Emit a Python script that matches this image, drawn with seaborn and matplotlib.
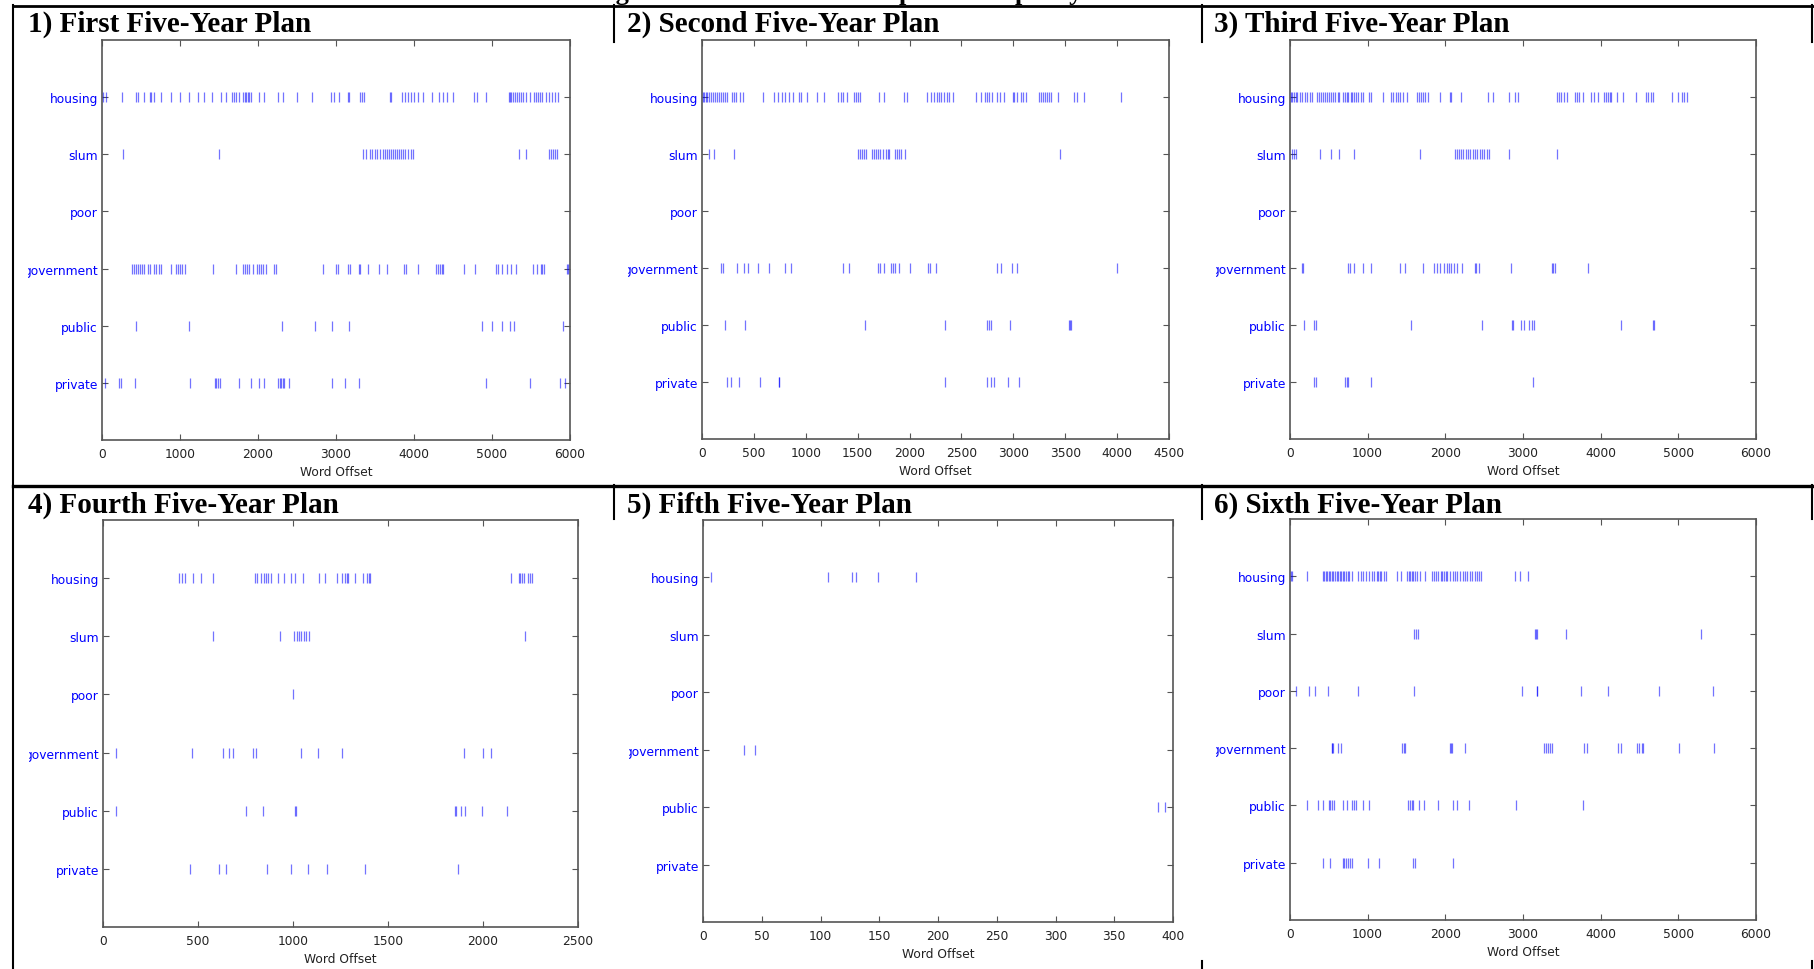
import pandas as pd
import seaborn as sns
import matplotlib.pyplot as plt
from matplotlib.lines import Line2D
from matplotlib.ticker import MultipleLocator
from matplotlib.transforms import Bbox, TransformedBbox

# words shown on every panel, top to bottom
words = ["housing", "slum", "poor", "government", "public", "private"]

titles = ["1) First Five-Year Plan", "2) Second Five-Year Plan", "3) Third Five-Year Plan",
          "4) Fourth Five-Year Plan", "5) Fifth Five-Year Plan", "6) Sixth Five-Year Plan"]

# word offsets
plan1 = {
    "housing": [10, 51, 254, 442, 467, 534, 610, 630, 671, 752, 879, 1001, 1118, 1235, 1311, 1408,
                1524, 1585, 1662, 1687, 1712, 1753, 1814, 1829, 1850, 1870, 1890, 1911, 2012, 2073,
                2256, 2322, 2500, 2693, 2937, 2973, 3034, 3150, 3171, 3303, 3328, 3354, 3694, 3704,
                3852, 3887, 3928, 3963, 4004, 4045, 4116, 4233, 4319, 4370, 4421, 4497, 4766, 4802,
                4929, 5218, 5234, 5249, 5269, 5295, 5320, 5346, 5376, 5401, 5437, 5488, 5539, 5564,
                5589, 5615, 5640, 5691, 5727, 5767, 5803, 5843],
    "slum": [269, 1499, 3344, 3389, 3430, 3466, 3496, 3532, 3567, 3598, 3633, 3659, 3684, 3709,
             3735, 3760, 3786, 3811, 3836, 3862, 3887, 3928, 3963, 3988, 5346, 5437, 5727, 5752,
             5778, 5803, 5833],
    "poor": [],
    "government": [381, 407, 432, 457, 483, 518, 544, 584, 610, 661, 686, 737, 762, 879, 950, 976,
                   1006, 1032, 1067, 1423, 1712, 1804, 1829, 1855, 1890, 1931, 1992, 2007, 2033,
                   2058, 2099, 2210, 2226, 2835, 2998, 3024, 3150, 3176, 3293, 3313, 3404, 3547,
                   3659, 3877, 3902, 4055, 4283, 4304, 4329, 4355, 4370, 4639, 4787, 5046, 5081,
                   5122, 5193, 5249, 5310, 5528, 5579, 5625, 5640, 5666, 5960, 5976],
    "public": [442, 1118, 2302, 2729, 2952, 3161, 4873, 5005, 5122, 5234, 5285, 5915],
    "private": [41, 213, 239, 422, 1128, 1448, 1463, 1489, 1509, 1753, 1906, 2017, 2073, 2261,
                2276, 2297, 2317, 2327, 2403, 2952, 3115, 3293, 4924, 5488, 5869, 5930],
}

plan2 = {
    "housing": [8, 19, 34, 49, 72, 90, 109, 128, 147, 166, 184, 207, 226, 245, 290, 309, 328, 365,
                392, 584, 697, 730, 768, 798, 836, 881, 937, 956, 1013, 1111, 1175, 1314, 1337,
                1363, 1401, 1465, 1483, 1502, 1525, 1710, 1751, 1947, 1977, 2165, 2210, 2240, 2267,
                2285, 2304, 2330, 2361, 2380, 2417, 2643, 2692, 2730, 2745, 2764, 2794, 2843, 2869,
                2907, 2994, 3009, 3031, 3076, 3095, 3122, 3246, 3265, 3283, 3302, 3321, 3340, 3366,
                3434, 3584, 3611, 3679, 4036],
    "slum": [72, 113, 309, 1502, 1521, 1540, 1559, 1578, 1638, 1657, 1675, 1694, 1720, 1747, 1770,
             1788, 1803, 1860, 1879, 1901, 1920, 1954, 3445],
    "poor": [],
    "government": [184, 200, 335, 403, 448, 542, 644, 798, 855, 1363, 1419, 1694, 1713, 1751, 1826,
                   1841, 1864, 1901, 2003, 2180, 2199, 2255, 2839, 2877, 2989, 3038, 3999],
    "public": [218, 410, 1570, 2342, 2748, 2764, 2782, 2971, 3535, 3547, 3558],
    "private": [241, 279, 354, 557, 738, 745, 2342, 2748, 2786, 2813, 2952, 3057],
}

plan3 = {
    "housing": [10, 30, 51, 71, 96, 126, 157, 187, 223, 258, 288, 349, 374, 399, 425, 450, 475, 500,
                526, 551, 576, 612, 637, 677, 703, 728, 753, 779, 804, 829, 854, 880, 915, 945, 1021,
                1041, 1198, 1294, 1320, 1360, 1390, 1421, 1451, 1512, 1638, 1664, 1689, 1714, 1739,
                1775, 1937, 2058, 2078, 2199, 2548, 2613, 2826, 2902, 2937, 3433, 3458, 3493, 3524,
                3569, 3670, 3696, 3721, 3776, 3877, 3913, 3963, 4039, 4065, 4090, 4120, 4130, 4206,
                4282, 4454, 4580, 4606, 4646, 4671, 4924, 5000, 5041, 5076, 5111],
    "slum": [20, 46, 71, 384, 526, 627, 829, 1668, 2128, 2154, 2179, 2204, 2229, 2260, 2290, 2320,
             2351, 2381, 2411, 2442, 2472, 2502, 2533, 2568, 2826, 3433],
    "poor": [],
    "government": [157, 172, 753, 768, 829, 945, 1047, 1421, 1476, 1714, 1855, 1896, 1936, 1987,
                   2017, 2047, 2078, 2108, 2149, 2214, 2386, 2401, 2432, 2851, 3367, 3382, 3413,
                   3837],
    "public": [177, 303, 339, 1552, 2477, 2861, 2877, 2968, 3013, 3079, 3114, 3145, 4267, 4676, 4686],
    "private": [308, 339, 708, 728, 748, 1041, 3135],
}

plan4 = {
    "housing": [400, 415, 433, 475, 517, 579, 798, 813, 829, 846, 856, 871, 883, 919, 954, 988,
                1010, 1052, 1138, 1167, 1231, 1258, 1273, 1283, 1290, 1325, 1367, 1388, 1398, 1406,
                2148, 2188, 2196, 2206, 2215, 2238, 2246, 2256],
    "slum": [579, 933, 1006, 1021, 1033, 1044, 1056, 1071, 1085, 2219],
    "poor": [1000],
    "government": [69, 469, 629, 663, 685, 792, 804, 1042, 1131, 1256, 1900, 2000, 2042],
    "public": [69, 754, 842, 1008, 1015, 1852, 1860, 1883, 1906, 1994, 2127],
    "private": [458, 610, 646, 865, 990, 1079, 1181, 1377, 1871],
}

plan5 = {
    "housing": [7, 106, 127, 130, 149, 181],
    "slum": [],
    "poor": [],
    "government": [35, 44],
    "public": [387, 393],
    "private": [],
}

plan6 = {
    "housing": [10, 25, 222, 424, 439, 459, 479, 499, 520, 540, 560, 580, 600, 621, 641, 661, 681,
                701, 722, 742, 762, 792, 878, 913, 944, 979, 1014, 1054, 1085, 1115, 1135, 1155,
                1175, 1206, 1236, 1372, 1433, 1509, 1529, 1549, 1569, 1589, 1610, 1640, 1670, 1736,
                1822, 1852, 1882, 1912, 1943, 1963, 1983, 2003, 2023, 2054, 2094, 2124, 2154, 2185,
                2225, 2255, 2285, 2316, 2346, 2376, 2406, 2437, 2457, 2901, 2957, 3063],
    "slum": [1599, 1620, 1645, 3158, 3169, 3184, 3552, 5293],
    "poor": [76, 242, 318, 484, 878, 1599, 2992, 3174, 3184, 3749, 4097, 4753, 5444],
    "government": [535, 545, 555, 616, 651, 1448, 1463, 1478, 2064, 2079, 2089, 2255, 3275, 3300,
                   3325, 3350, 3375, 3789, 3819, 4223, 4268, 4470, 4495, 4526, 4551, 5010, 5464],
    "public": [222, 363, 429, 499, 520, 535, 565, 686, 732, 792, 818, 853, 938, 1014, 1514, 1539,
               1569, 1589, 1665, 1731, 1907, 2104, 2149, 2311, 2911, 3769],
    "private": [429, 520, 681, 701, 726, 752, 777, 802, 1004, 1140, 1584, 1605, 2104],
}

plans = [plan1, plan2, plan3, plan4, plan5, plan6]
x_max = [6000, 4500, 6000, 2500, 400, 6000]
x_step = [1000, 500, 1000, 500, 50, 1000]

W, H = 1814, 970
# axes boxes in pixels: left, top, right, bottom
boxes = [(102, 41, 570, 441), (702, 41, 1169, 440), (1290, 41, 1756, 440),
         (103, 521, 578, 928), (703, 521, 1173, 923), (1290, 520, 1756, 921)]
title_pos = [(28, 24), (627, 24), (1214, 24), (28, 505), (627, 505), (1214, 505)]

fig = plt.figure(figsize=(W / 100, H / 100), dpi=100)

for i, plan in enumerate(plans):
    l, t, r, b = boxes[i]
    ax = fig.add_axes([l / W, 1 - b / H, (r - l) / W, (b - t) / H])

    df = pd.DataFrame([(w, x) for w in words for x in plan[w]], columns=["word", "offset"])
    sns.stripplot(data=df, x="offset", y="word", order=words, jitter=False, marker="|",
                  size=7, color="#0000ff", linewidth=0.9, alpha=0.55, ax=ax)

    ax.set_xlim(0, x_max[i])
    ax.set_ylim(len(words), -1)
    ax.xaxis.set_major_locator(MultipleLocator(x_step[i]))
    ax.set_xlabel("Word Offset", fontsize=8.8, color="#222222")
    ax.set_ylabel("")
    ax.tick_params(direction="in", top=True, right=True, length=4, width=0.8,
                   color="#555555", labelsize=8.8, pad=5)
    ax.tick_params(axis="x", labelcolor="#222222")
    ax.tick_params(axis="y", labelcolor="#0000ff", pad=3)
    for s in ax.spines.values():
        s.set_color("#555555")
        s.set_linewidth(1.2)

    # the original screenshots were cropped just left of the labels
    clip = TransformedBbox(Bbox.from_extents((l - 74) / W, 0, l / W, 1), fig.transFigure)
    for lab in ax.get_yticklabels():
        lab.set_clip_on(True)
        lab.set_clip_box(clip)

    tx, ty = title_pos[i]
    fig.text(tx / W, 1 - ty / H, titles[i], fontsize=21, fontweight="bold",
             family=["Liberation Serif", "DejaVu Serif"], va="center", ha="left")

# overall caption, cut off at the top edge of the image as in the source
fig.text(0.5, 1.0, "Housing Terms in the Five-Year plans and policy over the Decades",
         fontsize=19, fontweight="bold", family=["Liberation Serif", "DejaVu Serif"],
         ha="center", va="baseline")

# table borders around the panels
def hline(y, x0, x1, lw):
    fig.add_artist(Line2D([x0 / W, x1 / W], [1 - y / H, 1 - y / H], color="black", lw=lw))


def vline(x, y0, y1, lw):
    fig.add_artist(Line2D([x / W, x / W], [1 - y0 / H, 1 - y1 / H], color="black", lw=lw))


hline(7, 13, W, 2.0)
hline(487, 13, W, 2.4)
vline(13, 6, H, 1.5)
for x in (614, 1202, 1812):
    vline(x, 6, 43, 1.5)
    vline(x, 486, 520, 1.5)
vline(1202, 962, H, 1.5)
vline(1812, 962, H, 1.5)

fig.savefig("out.png", dpi=100, facecolor="white")
